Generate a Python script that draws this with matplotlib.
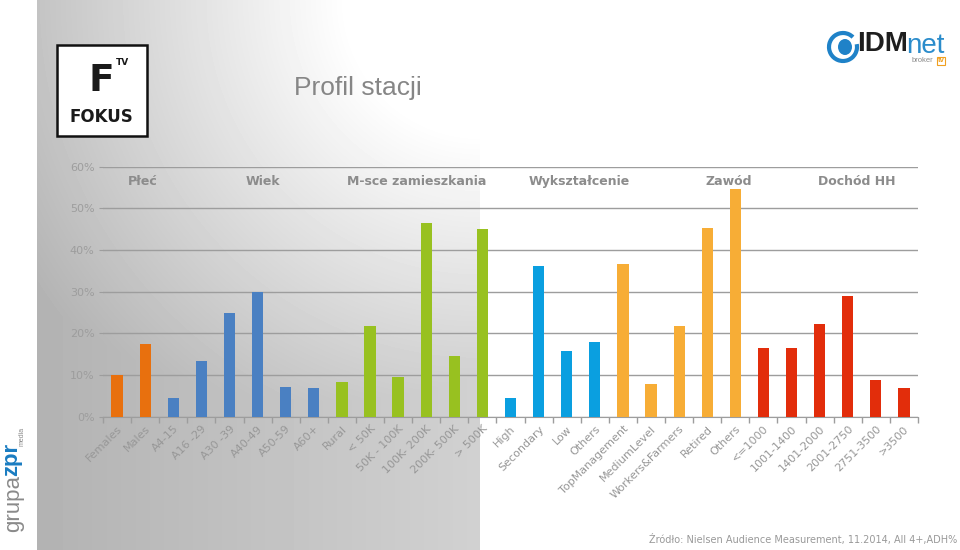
import numpy as np
import matplotlib
matplotlib.use("Agg")
import matplotlib.pyplot as plt
from matplotlib import patches
from matplotlib.transforms import blended_transform_factory

# Data

categories = [
    "Females", "Males",
    "A4-15", "A16 -29", "A30 -39", "A40-49", "A50-59", "A60+",
    "Rural", "< 50K", "50K - 100K", "100K- 200K", "200K- 500K", "> 500K",
    "High", "Secondary", "Low", "Others",
    "TopManagement", "MediumLevel", "Workers&Farmers", "Retired", "Others",
    "<=1000", "1001-1400", "1401-2000", "2001-2750", "2751-3500", ">3500",
]
values = [
    10.0, 17.4,
    4.4, 13.4, 24.9, 30.0, 7.1, 6.9,
    8.4, 21.8, 9.5, 46.6, 14.5, 45.1,
    4.4, 36.1, 15.8, 17.9,
    36.6, 7.8, 21.8, 45.3, 54.7,
    16.6, 16.5, 22.2, 29.0, 8.8, 7.0,
]
group_sizes  = [2, 6, 6, 4, 5, 6]
group_names  = ["Płeć", "Wiek", "M-sce zamieszkania", "Wykształcenie", "Zawód", "Dochód HH"]
group_colors = ["#E8700E", "#4A80C2", "#98C120", "#0A9FE0", "#F7AD36", "#E22D0B"]
header_x     = [0.92, 5.2, 10.67, 16.44, 21.78, 26.33]

y_ticks = [0, 10, 20, 30, 40, 50, 60]
source  = "Źródło: Nielsen Audience Measurement, 11.2014, All 4+,ADH%"
title   = "Profil stacji"

W, H = 960, 550


def P(x, y):
    # pixel position (from top-left) -> figure fraction
    return x / W, 1 - y / H


fig = plt.figure(figsize=(9.6, 5.5), dpi=100)
fig.patch.set_facecolor("white")

# background: gray panel on the left, lighter towards its top right corner
bg = fig.add_axes([0, 0, 1, 1], zorder=-5)
xx, yy = np.meshgrid(np.arange(W), np.arange(H))
d = np.sqrt((xx - 480.0) ** 2 + (yy - 0.0) ** 2)
radial = np.clip(1.10 - 0.00075 * d, 0, 1)
floor = 0.70 + 0.12 * (xx - 37) / 443.0
v = np.maximum(radial, floor)
img = np.ones((H, W))
mask = (xx >= 37) & (xx < 480)
img[mask] = v[mask]
bg.imshow(img, cmap="gray", vmin=0, vmax=1, extent=(0, W, H, 0), aspect="auto")
bg.set_xlim(0, W); bg.set_ylim(H, 0)
bg.axis("off")

# chart
ax = fig.add_axes([103 / W, 1 - 416.7 / H, 815 / W, 250 / H])
ax.patch.set_alpha(0)

colors = []
for c, n in zip(group_colors, group_sizes):
    colors += [c] * n
x = np.arange(len(categories))
ax.bar(x, values, width=0.4, color=colors, zorder=3)

ax.set_xlim(-0.5, len(categories) - 0.5)
ax.set_ylim(0, 60)
ax.set_yticks(y_ticks)
ax.set_yticklabels([f"{t}%" for t in y_ticks])
ax.grid(axis="y", color="#9d9d9d", linewidth=1.0, zorder=0)
ax.set_axisbelow(True)

ax.set_xticks(x)
ax.set_xticklabels(categories)
ax.set_xticks(np.arange(len(categories) + 1) - 0.5, minor=True)
ax.tick_params(axis="x", which="major", length=0, pad=5, labelsize=8, labelcolor="#979797")
ax.tick_params(axis="x", which="minor", length=4, color="#9d9d9d", width=1)
ax.tick_params(axis="y", length=3, color="#9d9d9d", labelsize=8, labelcolor="#9d9d9d", pad=3)
plt.setp(ax.get_xticklabels(), rotation=45, ha="right", rotation_mode="anchor")

for s in ["top", "right", "left"]:
    ax.spines[s].set_visible(False)
ax.spines["bottom"].set_color("#9d9d9d")

trans = blended_transform_factory(ax.transData, ax.transAxes)
for name, hx in zip(group_names, header_x):
    ax.text(hx, 0.941, name, transform=trans, ha="center", va="center",
            fontsize=9, fontweight="bold", color="#8c8c8c")

# title
fig.text(*P(358, 88), title, ha="center", va="center", fontsize=19,
         family="Liberation Sans", color="#868686")

# FOKUS TV logo
fig.patches.append(patches.Rectangle(P(57, 136), 90 / W, 91 / H, transform=fig.transFigure,
                                     facecolor="white", edgecolor="#111111", linewidth=1.8))
fig.text(*P(101, 81), "F", ha="center", va="center", fontsize=27,
         fontweight="bold", color="#1a1a1a")
fig.text(*P(123, 62), "TV", ha="center", va="center", fontsize=6.5,
         fontweight="bold", color="#1a1a1a")
fig.text(*P(101, 117), "FOKUS", ha="center", va="center", fontsize=12,
         fontweight="bold", color="#1a1a1a")

# IDMnet logo
fig.patches.append(patches.Arc(P(843, 47), 28 / W, 28 / H, theta1=60, theta2=380,
                               transform=fig.transFigure, color="#1f82c8", linewidth=3))
fig.patches.append(patches.Ellipse(P(845, 47), 14 / W, 16 / H, transform=fig.transFigure,
                                   facecolor="#1f82c8", edgecolor="none"))
fig.text(*P(857, 44), "IDM", ha="left", va="center", fontsize=20,
         family="Liberation Sans", fontweight="bold", color="#1e1e1e")
fig.text(*P(906, 46), "net", ha="left", va="center", fontsize=20,
         family="Liberation Sans", color="#2b8ccb")
fig.text(*P(933, 61), "broker", ha="right", va="center", fontsize=5.5,
         family="Liberation Sans", color="#8a8a8a")
fig.text(*P(941, 61), "tv", ha="center", va="center", fontsize=5.5,
         family="Liberation Sans", fontweight="bold", color="#f0a020",
         bbox=dict(boxstyle="square,pad=0.1", facecolor="white", edgecolor="#f0a020", linewidth=0.8))

# grupazpr media logo (vertical)
fig.text(*P(14, 503), "grupa", ha="center", va="center", rotation=90, fontsize=16,
         family="Liberation Sans", color="#8a8a8a")
fig.text(*P(12, 459), "zpr", ha="center", va="center", rotation=90, fontsize=16,
         family="Liberation Sans", fontweight="bold", color="#1a7cc1")
fig.text(*P(22, 436), "media", ha="center", va="center", rotation=90, fontsize=5,
         family="Liberation Sans", color="#8a8a8a")

# source
fig.text(*P(957, 540), source, ha="right", va="center", fontsize=7, color="#999999")

fig.savefig("out.png", dpi=100)
